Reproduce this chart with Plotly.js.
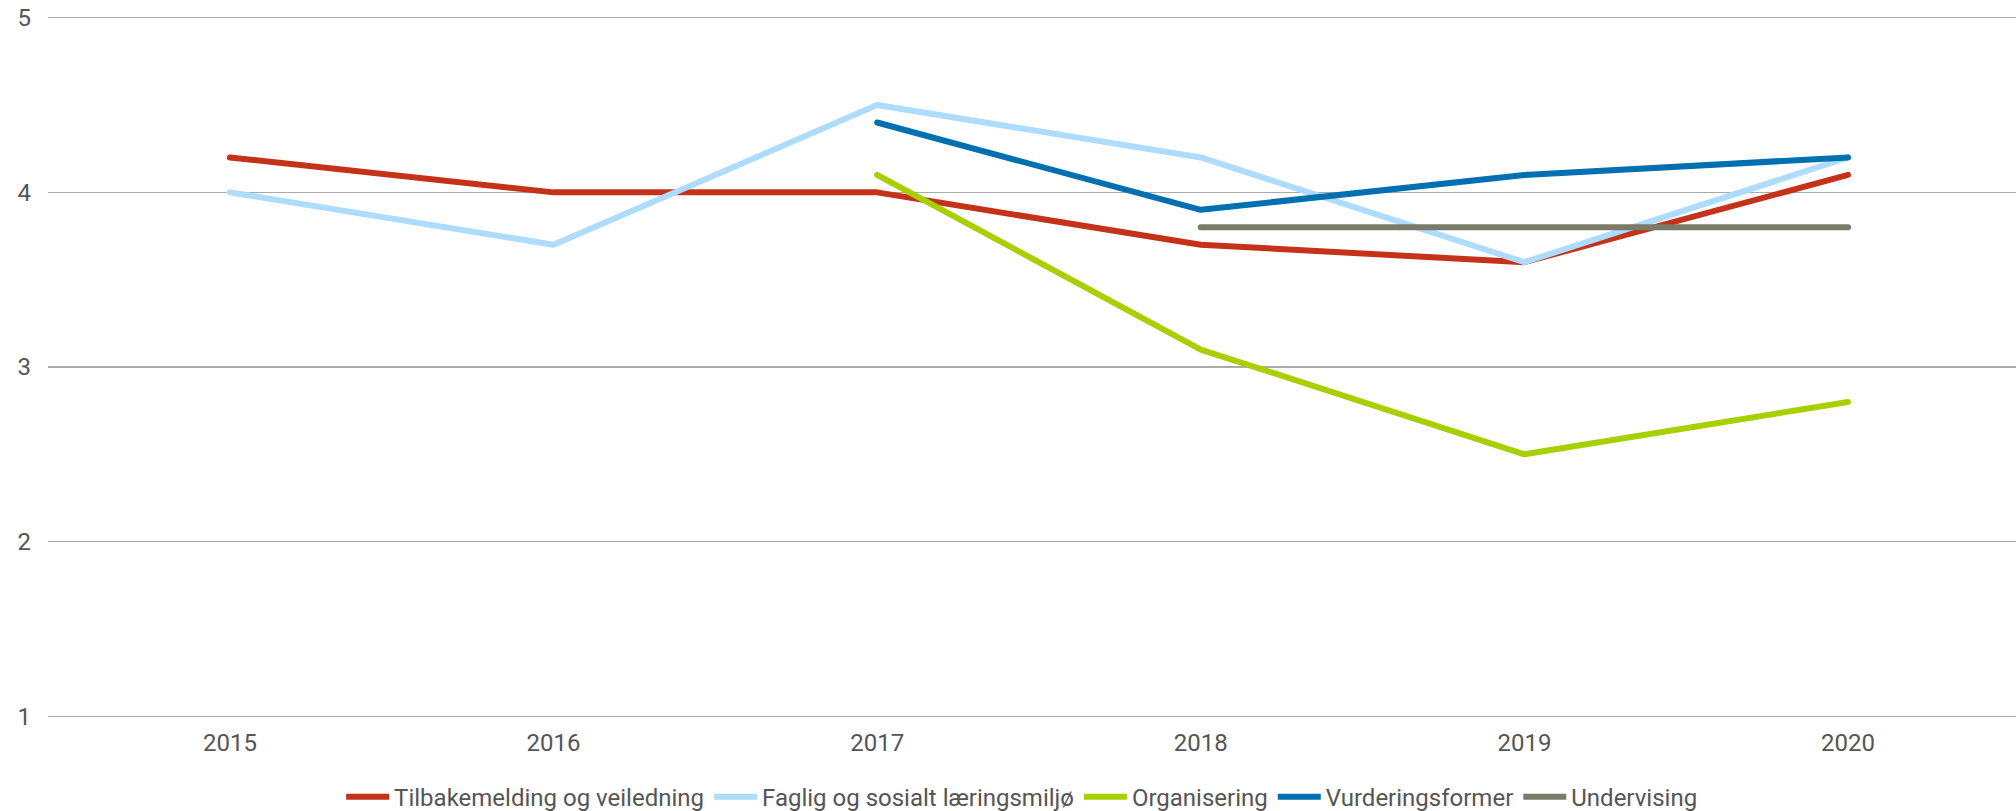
<!DOCTYPE html>
<html>
<head>
<meta charset="utf-8">
<script src="https://cdn.plot.ly/plotly-3.0.1.min.js"></script>
<style>
html,body{margin:0;padding:0;background:#fff;}
#chart{width:2016px;height:811px;}
#chart .scatterlayer .js-line{stroke-linecap:round;stroke-linejoin:round;}
</style>
</head>
<body>
<div id="chart"></div>
<script>
const years = ["2015", "2016", "2017", "2018", "2019", "2020"];
const seriesNames = ["Tilbakemelding og veiledning", "Faglig og sosialt læringsmiljø", "Organisering", "Vurderingsformer", "Undervising"];
const tilbakemelding = [4.2, 4.0, 4.0, 3.7, 3.6, 4.1];
const faglig = [4.0, 3.7, 4.5, 4.2, 3.6, 4.2];
const organisering = [null, null, 4.1, 3.1, 2.5, 2.8];
const vurdering = [null, null, 4.4, 3.9, 4.1, 4.2];
const undervising = [null, null, null, 3.8, 3.8, 3.8];
const colors = ["#C4321A", "#ADDCFF", "#A8CF00", "#0070B0", "#7A7A68"];
const yTicks = [1, 2, 3, 4, 5];

const allValues = [tilbakemelding, faglig, organisering, vurdering, undervising];
const traces = allValues.map((vals, i) => ({
  type: "scatter",
  mode: "lines",
  x: years,
  y: vals,
  name: seriesNames[i],
  line: {color: colors[i], width: 6},
  connectgaps: false,
  hoverinfo: "x+y+name"
}));

const layout = {
  width: 2016,
  height: 811,
  margin: {l: 48, r: 0, t: 16, b: 93},
  paper_bgcolor: "#fff",
  plot_bgcolor: "#fff",
  font: {family: "Roboto, sans-serif", size: 24, color: "#555"},
  showlegend: true,
  legend: {
    orientation: "h",
    xref: "container", yref: "container",
    x: 0.507, xanchor: "center",
    y: 0.017, yanchor: "middle",
    font: {family: "Roboto, sans-serif", size: 24, color: "#555"},
    itemwidth: 43,
    tracegroupgap: 0
  },
  xaxis: {
    type: "category",
    range: [-0.562, 5.519],
    showgrid: false,
    zeroline: false,
    showline: false,
    ticks: "",
    ticklabelstandoff: 8,
    tickfont: {size: 24, color: "#555"},
    fixedrange: true
  },
  yaxis: {
    range: [0.99, 5.01],
    tickvals: yTicks,
    ticktext: yTicks.map(String),
    showgrid: true,
    gridcolor: "#AAAAAA",
    gridwidth: 1.3,
    zeroline: false,
    showline: false,
    ticks: "",
    ticklabelstandoff: 16,
    tickfont: {size: 24, color: "#555"},
    fixedrange: true
  }
};

Plotly.newPlot("chart", traces, layout, {displayModeBar: false, staticPlot: true});
</script>
</body>
</html>
